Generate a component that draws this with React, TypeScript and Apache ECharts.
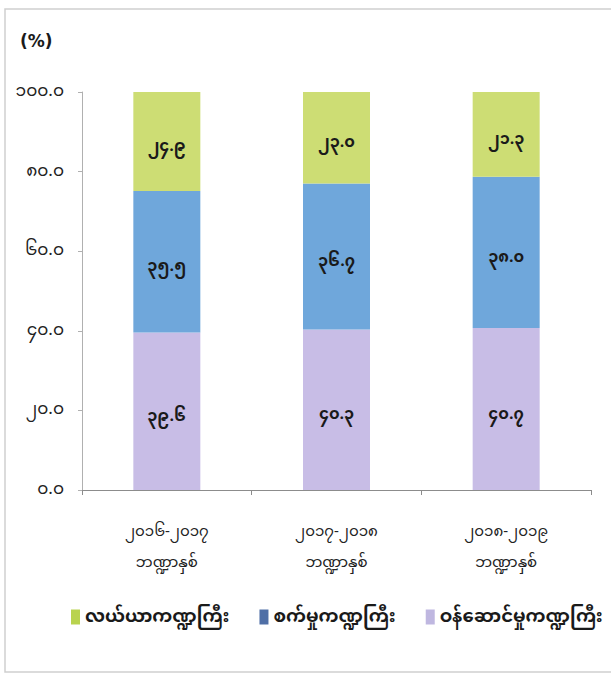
import React, { useEffect, useRef } from "react";
import * as echarts from "echarts";

const categories = [
  "၂၀၁၆-၂၀၁၇\nဘဏ္ဍာနှစ်",
  "၂၀၁၇-၂၀၁၈\nဘဏ္ဍာနှစ်",
  "၂၀၁၈-၂၀၁၉\nဘဏ္ဍာနှစ်",
];
const seriesNames = ["လယ်ယာကဏ္ဍကြီး", "စက်မှုကဏ္ဍကြီး", "ဝန်ဆောင်မှုကဏ္ဍကြီး"];
const agriculture = [24.9, 23.0, 21.3];
const industry = [35.5, 36.7, 38.0];
const services = [39.6, 40.3, 40.7];
const yTickLabels = ["၀.၀", "၂၀.၀", "၄၀.၀", "၆၀.၀", "၈၀.၀", "၁၀၀.၀"];

const barColors = ["#cddd74", "#6fa7db", "#c8bde6"];
const legendColors = ["#b9d34e", "#4f6fa6", "#bfb7e0"];

const MY_DIGITS = "၀၁၂၃၄၅၆၇၈၉";
const toMy = (s: string) => s.replace(/[0-9]/g, (d) => MY_DIGITS[Number(d)]);

const FONT = "'Noto Sans Myanmar', Padauk, 'Myanmar Text', 'Noto Sans', 'DejaVu Sans', sans-serif";

export default function App() {
  const ref = useRef<HTMLDivElement>(null);
  useEffect(() => {
    if (!ref.current) return;
    const chart = echarts.init(ref.current, undefined, { renderer: "svg" });
    const mk = (i: number, data: number[]) => ({
      name: seriesNames[i],
      type: "bar",
      stack: "total",
      barWidth: 67,
      data,
      itemStyle: { color: barColors[i] },
      label: {
        show: true,
        position: "inside",
        offset: [0, 6],
        color: "#1a1a1a",
        fontSize: 16,
        fontWeight: "bold",
        fontFamily: FONT,
        formatter: (p: any) => toMy(Number(p.value).toFixed(1)),
      },
    });
    chart.setOption({
      animation: false,
      backgroundColor: "#ffffff",
      textStyle: { fontFamily: FONT },
      grid: { left: 82, right: 20, top: 92, bottom: 190, containLabel: false },
      legend: {
        top: 603,
        left: 66,
        itemWidth: 9,
        itemHeight: 15,
        itemGap: 30,
        icon: "rect",
        textStyle: { fontSize: 18, fontWeight: "bold", color: "#1a1a1a", fontFamily: FONT },
        data: seriesNames.map((n, i) => ({ name: n, itemStyle: { color: legendColors[i] } })),
      },
      xAxis: {
        type: "category",
        data: categories,
        axisLine: { show: true, lineStyle: { color: "#8c8c8c" } },
        axisTick: { show: true, length: 5, lineStyle: { color: "#8c8c8c" } },
        axisLabel: {
          color: "#222",
          fontSize: 15,
          lineHeight: 31,
          margin: 27,
          fontFamily: FONT,
        },
      },
      yAxis: {
        type: "value",
        min: 0,
        max: 100,
        interval: 20,
        axisLine: { show: true, lineStyle: { color: "#b0b0b0" } },
        axisTick: { show: true, length: 4, lineStyle: { color: "#b0b0b0" } },
        splitLine: { show: false },
        axisLabel: {
          color: "#222",
          fontSize: 17,
          margin: 18,
          fontFamily: FONT,
          formatter: (v: number) => yTickLabels[Math.round(v / 20)] ?? "",
        },
      },
      graphic: [
        {
          type: "rect",
          shape: { x: 5, y: 9, width: 640, height: 663 },
          style: { fill: "none", stroke: "#cfcfcf", lineWidth: 1.5 },
          silent: true,
        },
        {
          type: "text",
          left: 20,
          top: 32,
          style: { text: "(%)", fontSize: 17, fontWeight: "bold", fill: "#1a1a1a", fontFamily: "'DejaVu Sans', sans-serif" },
        },
      ],
      series: [mk(2, services), mk(1, industry), mk(0, agriculture)],
    });
    return () => chart.dispose();
  }, []);
  return <div ref={ref} style={{ position: "fixed", left: 0, top: 0, width: 611, height: 680 }} />;
}
